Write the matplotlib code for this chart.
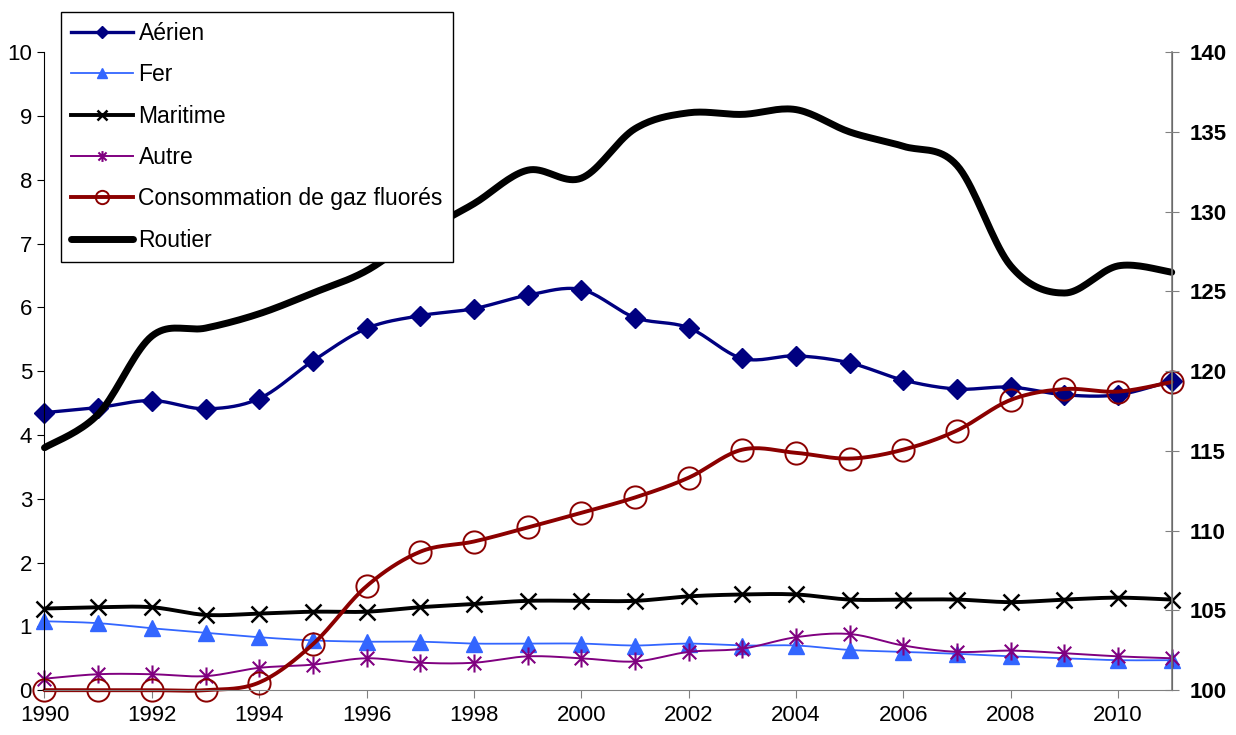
import numpy as np
import matplotlib
matplotlib.use("Agg")
import matplotlib.pyplot as plt
from matplotlib.path import Path

plt.rcParams['font.family'] = ['Liberation Sans', 'DejaVu Sans']

annees = list(range(1990, 2012))

aerien = [4.35, 4.43, 4.54, 4.41, 4.57, 5.16, 5.67, 5.87, 5.98, 6.19, 6.28, 5.84,
          5.68, 5.2, 5.24, 5.13, 4.86, 4.72, 4.75, 4.63, 4.63, 4.85]
fer = [1.08, 1.05, 0.97, 0.9, 0.83, 0.78, 0.76, 0.76, 0.73, 0.73, 0.73, 0.7,
       0.73, 0.7, 0.7, 0.63, 0.6, 0.57, 0.53, 0.5, 0.47, 0.47]
maritime = [1.28, 1.3, 1.3, 1.18, 1.2, 1.23, 1.23, 1.3, 1.35, 1.4, 1.4, 1.4,
            1.47, 1.5, 1.5, 1.42, 1.42, 1.42, 1.38, 1.42, 1.45, 1.42]
autre = [0.18, 0.25, 0.25, 0.22, 0.35, 0.4, 0.5, 0.43, 0.43, 0.53, 0.5, 0.45,
         0.6, 0.65, 0.83, 0.88, 0.7, 0.6, 0.62, 0.58, 0.53, 0.5]
gaz_fluores = [0, 0, 0, 0, 0.12, 0.72, 1.63, 2.17, 2.33, 2.55, 2.78, 3.02,
               3.33, 3.77, 3.72, 3.63, 3.77, 4.07, 4.55, 4.72, 4.68, 4.83]
routier = [115.2, 117.3, 122.2, 122.7, 123.6, 124.9, 126.3, 128.6, 130.5, 132.6, 132.1, 135.2,
           136.2, 136.1, 136.4, 135.0, 134.1, 132.9, 126.6, 124.9, 126.6, 126.2]


def lisser(x, y, n=20):
    # courbe lissee facon Excel (bezier cubique, tension 1/6)
    x = np.asarray(x, float)
    y = np.asarray(y, float)
    px = np.concatenate([[x[0]], x, [x[-1]]])
    py = np.concatenate([[y[0]], y, [y[-1]]])
    xs, ys = [], []
    t = np.linspace(0, 1, n)
    for i in range(1, len(px) - 2):
        x0, y0 = px[i], py[i]
        x3, y3 = px[i + 1], py[i + 1]
        x1 = x0 + (px[i + 1] - px[i - 1]) / 6
        y1 = y0 + (py[i + 1] - py[i - 1]) / 6
        x2 = x3 - (px[i + 2] - px[i]) / 6
        y2 = y3 - (py[i + 2] - py[i]) / 6
        bx = (1-t)**3*x0 + 3*(1-t)**2*t*x1 + 3*(1-t)*t**2*x2 + t**3*x3
        by = (1-t)**3*y0 + 3*(1-t)**2*t*y1 + 3*(1-t)*t**2*y2 + t**3*y3
        xs.extend(bx)
        ys.extend(by)
    return xs, ys


asterisque = Path([(0, -1), (0, 1), (-0.75, -0.75), (0.75, 0.75), (-0.75, 0.75), (0.75, -0.75)],
                  [Path.MOVETO, Path.LINETO, Path.MOVETO, Path.LINETO, Path.MOVETO, Path.LINETO])

fig = plt.figure(figsize=(12.36, 7.35), dpi=100)
ax = fig.add_axes([0.036, 0.061, 0.912, 0.868])
ax2 = ax.twinx()

series = [
    ("Aérien", aerien, "#000080", 2.4, dict(marker="D", ms=10, mfc="#000080", mec="#000080")),
    ("Fer", fer, "#3366FF", 1.3, dict(marker="^", ms=11, mfc="#3366FF", mec="#3366FF")),
    ("Maritime", maritime, "black", 2.8, dict(marker="x", ms=11, mew=1.8, mec="black")),
    ("Autre", autre, "#800080", 1.4, dict(marker=asterisque, ms=13, mew=1.5, mec="#800080")),
    ("Consommation de gaz fluorés", gaz_fluores, "#8B0000", 2.8,
     dict(marker="o", ms=16, mfc="none", mec="#8B0000", mew=1.4)),
]

handles = []
for nom, vals, coul, lw, mk in series:
    sx, sy = lisser(annees, vals)
    ax.plot(sx, sy, color=coul, lw=lw, solid_capstyle="round", clip_on=False)
    ax.plot(annees, vals, ls="none", clip_on=False, **mk)
    h, = ax.plot([], [], color=coul, lw=lw, **{k: v for k, v in mk.items() if k != "ms"},
                 ms=mk["ms"] * 0.6, label=nom)
    handles.append(h)

sx, sy = lisser(annees, routier)
ax2.plot(sx, sy, color="black", lw=5, solid_capstyle="round", clip_on=False)
h, = ax2.plot([], [], color="black", lw=5, solid_capstyle="round", label="Routier")
handles.append(h)

ax.set_xlim(1990, 2011)
ax.set_ylim(0, 10)
ax2.set_ylim(100, 140)
ax.set_xticks(range(1990, 2011, 2))
ax.set_yticks(range(0, 11))
ax2.set_yticks(range(100, 141, 5))

ax.tick_params(axis="x", labelsize=16, direction="out", length=6, color="#808080", pad=5)
ax.tick_params(axis="y", labelsize=16, direction="out", length=5, color="black", pad=4)
ax2.tick_params(axis="y", labelsize=16, direction="inout", length=10, color="#808080", pad=8)
for lab in ax2.get_yticklabels():
    lab.set_fontweight("bold")

for a in (ax, ax2):
    a.spines["top"].set_visible(False)
ax.spines["left"].set_color("black")
ax.spines["bottom"].set_color("#808080")
ax2.spines["right"].set_color("#808080")
ax2.spines["left"].set_visible(False)
ax2.spines["bottom"].set_visible(False)
ax2.spines["right"].set_linewidth(1.2)

leg = fig.legend(handles=handles, loc="upper left", bbox_to_anchor=(0.049, 0.984),
                 fontsize=16.5, frameon=True, fancybox=False, framealpha=1, handlelength=2.7,
                 handletextpad=0.25, labelspacing=0.8, borderpad=0.45, borderaxespad=0)
leg.get_frame().set_edgecolor("black")
leg.get_frame().set_linewidth(1.0)

fig.savefig("out.png", dpi=100)
